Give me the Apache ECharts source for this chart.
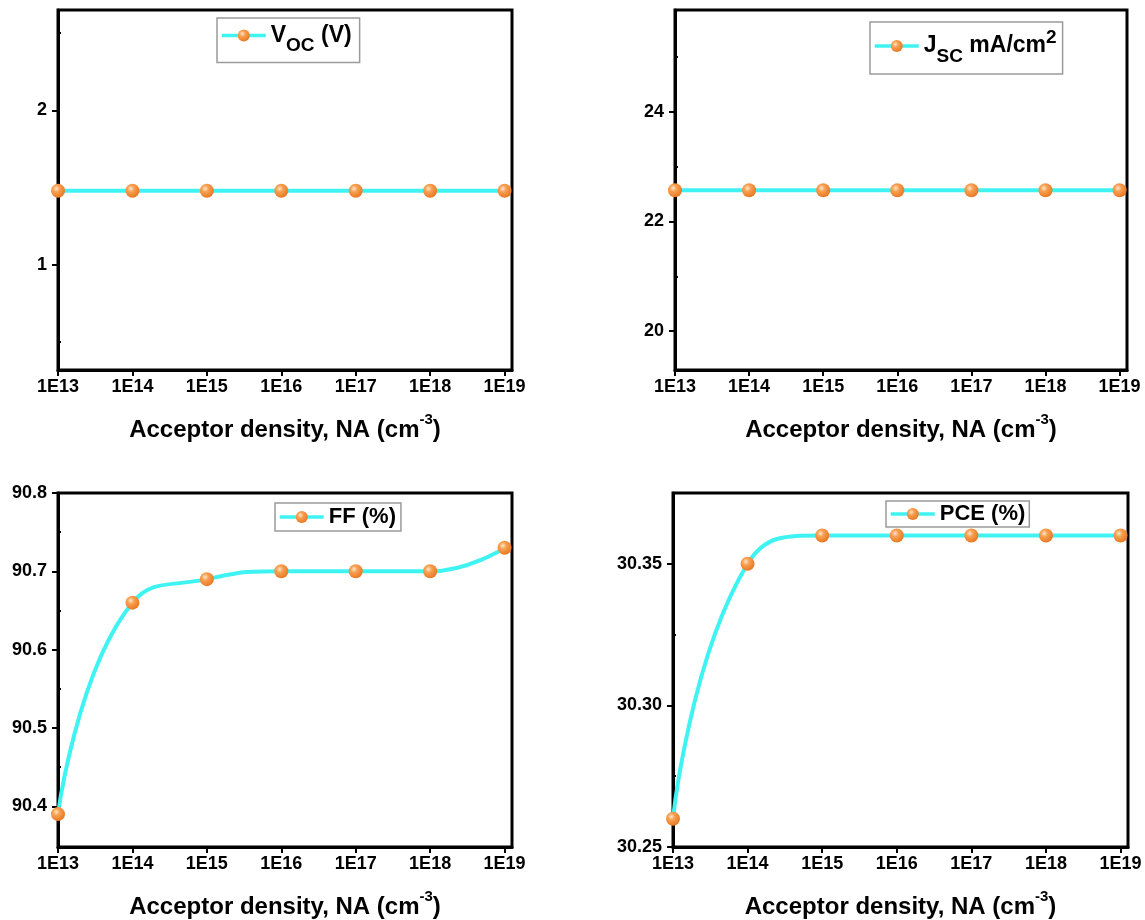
<!DOCTYPE html>
<html>
<head>
<meta charset="utf-8">
<script src="https://cdn.jsdelivr.net/npm/echarts@6/dist/echarts.min.js"></script>
<style>
html,body{margin:0;padding:0;background:#fff;}
#chart{width:1145px;height:920px;}
</style>
</head>
<body>
<div id="chart"></div>
<script>
// ---- data ----
const categories = ['1E13', '1E14', '1E15', '1E16', '1E17', '1E18', '1E19'];
const vocValues = [1.48, 1.48, 1.48, 1.48, 1.48, 1.48, 1.48];
const jscValues = [22.57, 22.57, 22.57, 22.57, 22.57, 22.57, 22.57];
const ffValues = [90.39, 90.66, 90.69, 90.70, 90.70, 90.70, 90.73];
const pceValues = [30.26, 30.35, 30.36, 30.36, 30.36, 30.36, 30.36];

const vocTicks = [1, 2];
const vocMinor = [0.5, 1.5, 2.5];
const jscTicks = [20, 22, 24];
const jscMinor = [21, 23, 25];
const ffTicks = [90.4, 90.5, 90.6, 90.7, 90.8];
const ffMinor = [90.45, 90.55, 90.65, 90.75];
const pceTicks = [30.25, 30.30, 30.35];
const pceMinor = [30.275, 30.325, 30.375];

const FONT = '"Liberation Sans", Arial, sans-serif';
const chart = echarts.init(document.getElementById('chart'), null, {renderer: 'canvas'});

const grids = [
  {left: 58, right: 633, top: 10, height: 360},
  {left: 675, right: 18, top: 10, height: 360},
  {left: 58, right: 633, top: 493, height: 358},
  {left: 673, right: 17, top: 493, height: 357}
];

const yConf = [
  {min: 0.32, max: 2.65, ticks: vocTicks, minor: vocMinor, dec: 0},
  {min: 19.29, max: 25.86, ticks: jscTicks, minor: jscMinor, dec: 0},
  {min: 90.348, max: 90.8, ticks: ffTicks, minor: ffMinor, dec: 1},
  {min: 30.25, max: 30.375, ticks: pceTicks, minor: pceMinor, dec: 2}
];

const seriesDefs = [
  {name: 'VOC', values: vocValues, smooth: false},
  {name: 'JSC', values: jscValues, smooth: false},
  {name: 'FF', values: ffValues, smooth: 0.5},
  {name: 'PCE', values: pceValues, smooth: 0.5}
];

const legendPos = [
  {left: 217, top: 18, pad: [6, 8, 7, 3]},
  {left: 870, top: 22, pad: [6, 6, 8, 3]},
  {left: 275, top: 503, pad: [3, 5, 3, 3]},
  {left: 886, top: 501, pad: [2, 4, 2, 3]}
];

const legendText = {
  'VOC': '{a|V}{sub|OC}{a| (V)}',
  'JSC': '{a|J}{sub|SC}{a| mA/cm}{sup|2}',
  'FF': '{b|FF (%)}',
  'PCE': '{b|PCE (%)}'
};

const ballColor = {
  type: 'radial', x: 0.38, y: 0.35, r: 0.7,
  colorStops: [
    {offset: 0, color: '#FFE6CC'},
    {offset: 0.35, color: '#F7A050'},
    {offset: 1, color: '#E8741E'}
  ]
};

const xAxes = [], yAxes = [], series = [], legends = [];
grids.forEach((g, i) => {
  g.show = true;
  g.borderColor = '#000';
  g.borderWidth = 3;
  g.containLabel = false;
  xAxes.push({
    type: 'value', gridIndex: i, min: 0, max: 6.1,
    axisLine: {show: true, onZero: false, lineStyle: {color: '#000', width: 3}},
    axisTick: {show: true, customValues: [0,1,2,3,4,5,6], length: 6, lineStyle: {color: '#000', width: 2}},
    axisLabel: {customValues: [0,1,2,3,4,5,6], formatter: v => categories[Math.round(v)],
      color: '#000', fontFamily: FONT, fontWeight: 'bold', fontSize: 18, margin: 8},
    splitLine: {show: false},
    name: '{t|Acceptor density, NA (cm}{sup|-3}{t|)}',
    nameLocation: 'middle', nameGap: 42,
    nameTextStyle: {
      rich: {
        t: {fontFamily: FONT, fontWeight: 'bold', fontSize: 24, color: '#000', lineHeight: 30, verticalAlign: 'bottom'},
        sup: {fontFamily: FONT, fontWeight: 'bold', fontSize: 15, color: '#000', lineHeight: 30, verticalAlign: 'top'}
      }
    }
  });
  const c = yConf[i];
  yAxes.push({
    type: 'value', gridIndex: i, min: c.min, max: c.max,
    axisLine: {show: true, onZero: false, lineStyle: {color: '#000', width: 3}},
    axisTick: {show: true, customValues: c.ticks, length: 6, lineStyle: {color: '#000', width: 2}},
    axisLabel: {customValues: c.ticks, formatter: v => v.toFixed(c.dec),
      color: '#000', fontFamily: FONT, fontWeight: 'bold', fontSize: 18, margin: 11},
    splitLine: {show: false}
  });
  yAxes.push({
    type: 'value', gridIndex: i, min: c.min, max: c.max,
    axisLine: {show: false},
    axisTick: {show: true, customValues: c.minor, length: 3, lineStyle: {color: '#000', width: 2}},
    axisLabel: {show: false},
    splitLine: {show: false}
  });
  const s = seriesDefs[i];
  series.push({
    type: 'line', name: s.name, xAxisIndex: i, yAxisIndex: i * 2,
    data: s.values.map((v, k) => [k, v]),
    smooth: s.smooth,
    symbol: 'circle', symbolSize: 14,
    lineStyle: {color: '#3FF3F3', width: 4},
    itemStyle: {color: ballColor, borderWidth: 0},
    clip: false, z: 3
  });
  const lp = legendPos[i];
  legends.push({
    data: [s.name], left: lp.left, top: lp.top,
    orient: 'horizontal',
    itemWidth: 44, itemHeight: 15, itemGap: 4,
    lineStyle: {width: 3.5},
    borderColor: '#9a9a9a', borderWidth: 1.5, padding: lp.pad,
    backgroundColor: '#fff',
    formatter: n => legendText[n],
    textStyle: {
      rich: {
        a: {fontFamily: FONT, fontWeight: 'bold', fontSize: 23, color: '#000', lineHeight: 26, verticalAlign: 'middle'},
        b: {fontFamily: FONT, fontWeight: 'bold', fontSize: 22, color: '#000', lineHeight: 24},
        sub: {fontFamily: FONT, fontWeight: 'bold', fontSize: 19, color: '#000', lineHeight: 26, verticalAlign: 'bottom', padding: [0, 0, -7, 0]},
        sup: {fontFamily: FONT, fontWeight: 'bold', fontSize: 19, color: '#000', lineHeight: 26, verticalAlign: 'top', padding: [-5, 0, 0, 0]}
      }
    }
  });
});

chart.setOption({
  animation: false,
  backgroundColor: '#fff',
  grid: grids,
  xAxis: xAxes,
  yAxis: yAxes,
  legend: legends,
  series: series
});
</script>
</body>
</html>
